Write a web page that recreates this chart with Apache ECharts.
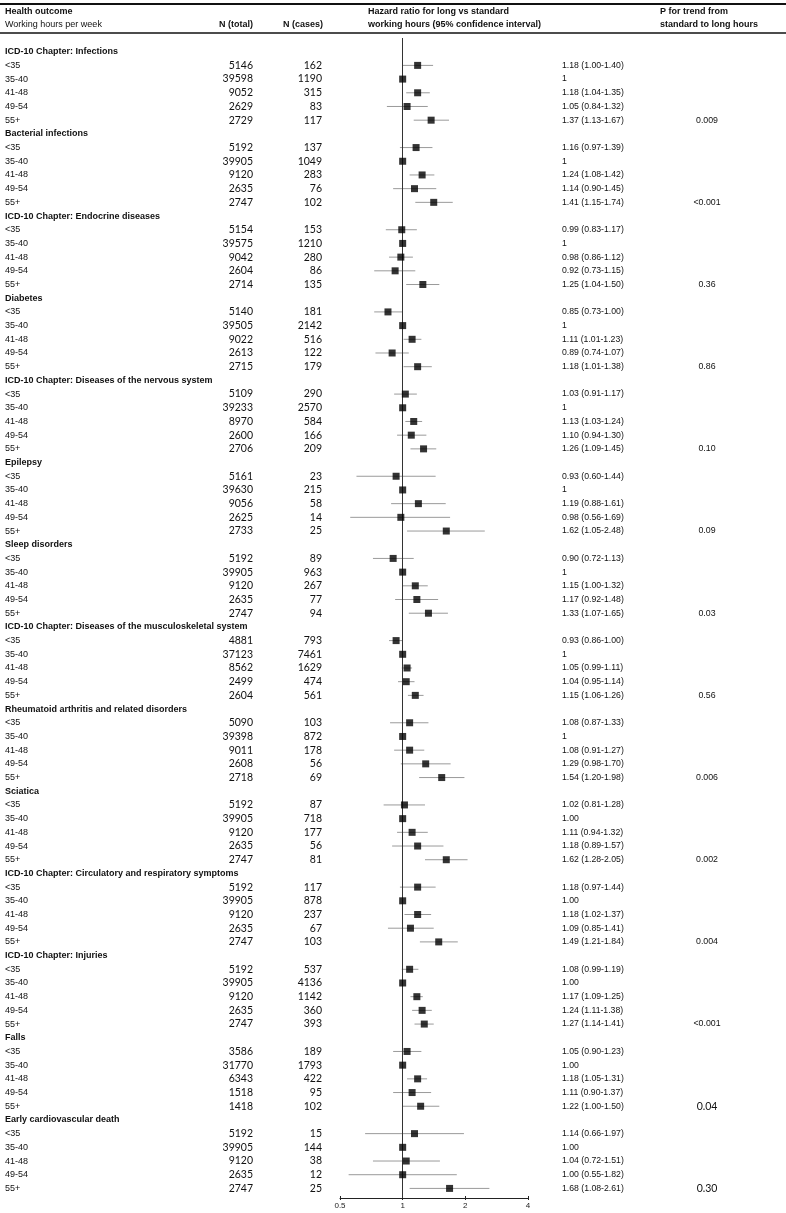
<!DOCTYPE html>
<html>
<head>
<meta charset="utf-8">
<script src="https://cdn.jsdelivr.net/npm/echarts@6/dist/echarts.min.js"></script>
<style>
  html, body { margin: 0; padding: 0; background: #fff; }
  #forest { width: 786px; height: 1213px; }
</style>
</head>
<body>
<div id="forest"></div>
<script>
// outcome groups, each with five working-hour bands
const groupTitles = [
  "ICD-10 Chapter: Infections",
  "Bacterial infections",
  "ICD-10 Chapter: Endocrine diseases",
  "Diabetes",
  "ICD-10 Chapter: Diseases of the nervous system",
  "Epilepsy",
  "Sleep disorders",
  "ICD-10 Chapter: Diseases of the musculoskeletal system",
  "Rheumatoid arthritis and related disorders",
  "Sciatica",
  "ICD-10 Chapter: Circulatory and respiratory symptoms",
  "ICD-10 Chapter: Injuries",
  "Falls",
  "Early cardiovascular death"
];
const hourBands = ["<35", "35-40", "41-48", "49-54", "55+"];

const nTotal = [
  [5146, 39598, 9052, 2629, 2729],
  [5192, 39905, 9120, 2635, 2747],
  [5154, 39575, 9042, 2604, 2714],
  [5140, 39505, 9022, 2613, 2715],
  [5109, 39233, 8970, 2600, 2706],
  [5161, 39630, 9056, 2625, 2733],
  [5192, 39905, 9120, 2635, 2747],
  [4881, 37123, 8562, 2499, 2604],
  [5090, 39398, 9011, 2608, 2718],
  [5192, 39905, 9120, 2635, 2747],
  [5192, 39905, 9120, 2635, 2747],
  [5192, 39905, 9120, 2635, 2747],
  [3586, 31770, 6343, 1518, 1418],
  [5192, 39905, 9120, 2635, 2747]
];
const nCases = [
  [162, 1190, 315, 83, 117],
  [137, 1049, 283, 76, 102],
  [153, 1210, 280, 86, 135],
  [181, 2142, 516, 122, 179],
  [290, 2570, 584, 166, 209],
  [23, 215, 58, 14, 25],
  [89, 963, 267, 77, 94],
  [793, 7461, 1629, 474, 561],
  [103, 872, 178, 56, 69],
  [87, 718, 177, 56, 81],
  [117, 878, 237, 67, 103],
  [537, 4136, 1142, 360, 393],
  [189, 1793, 422, 95, 102],
  [15, 144, 38, 12, 25]
];
const hazard = [
  [1.18, 1, 1.18, 1.05, 1.37],
  [1.16, 1, 1.24, 1.14, 1.41],
  [0.99, 1, 0.98, 0.92, 1.25],
  [0.85, 1, 1.11, 0.89, 1.18],
  [1.03, 1, 1.13, 1.10, 1.26],
  [0.93, 1, 1.19, 0.98, 1.62],
  [0.90, 1, 1.15, 1.17, 1.33],
  [0.93, 1, 1.05, 1.04, 1.15],
  [1.08, 1, 1.08, 1.29, 1.54],
  [1.02, 1, 1.11, 1.18, 1.62],
  [1.18, 1, 1.18, 1.09, 1.49],
  [1.08, 1, 1.17, 1.24, 1.27],
  [1.05, 1, 1.18, 1.11, 1.22],
  [1.14, 1, 1.04, 1.00, 1.68]
];
const ciLow = [
  [1.00, null, 1.04, 0.84, 1.13],
  [0.97, null, 1.08, 0.90, 1.15],
  [0.83, null, 0.86, 0.73, 1.04],
  [0.73, null, 1.01, 0.74, 1.01],
  [0.91, null, 1.03, 0.94, 1.09],
  [0.60, null, 0.88, 0.56, 1.05],
  [0.72, null, 1.00, 0.92, 1.07],
  [0.86, null, 0.99, 0.95, 1.06],
  [0.87, null, 0.91, 0.98, 1.20],
  [0.81, null, 0.94, 0.89, 1.28],
  [0.97, null, 1.02, 0.85, 1.21],
  [0.99, null, 1.09, 1.11, 1.14],
  [0.90, null, 1.05, 0.90, 1.00],
  [0.66, null, 0.72, 0.55, 1.08]
];
const ciHigh = [
  [1.40, null, 1.35, 1.32, 1.67],
  [1.39, null, 1.42, 1.45, 1.74],
  [1.17, null, 1.12, 1.15, 1.50],
  [1.00, null, 1.23, 1.07, 1.38],
  [1.17, null, 1.24, 1.30, 1.45],
  [1.44, null, 1.61, 1.69, 2.48],
  [1.13, null, 1.32, 1.48, 1.65],
  [1.00, null, 1.11, 1.14, 1.26],
  [1.33, null, 1.27, 1.70, 1.98],
  [1.28, null, 1.32, 1.57, 2.05],
  [1.44, null, 1.37, 1.41, 1.84],
  [1.19, null, 1.25, 1.38, 1.41],
  [1.23, null, 1.31, 1.37, 1.50],
  [1.97, null, 1.51, 1.82, 2.61]
];
// the reference band is printed as "1" in the first groups and "1.00" later
const refLabel = ["1", "1", "1", "1", "1", "1", "1", "1", "1", "1.00", "1.00", "1.00", "1.00", "1.00"];
const pTrend = ["0.009", "<0.001", "0.36", "0.86", "0.10", "0.09", "0.03", "0.56", "0.006", "0.002", "0.004", "<0.001", "0.04", "0.30"];
const xTicks = [0.5, 1, 2, 4];

// layout
const W = 786;
const gridTop = 38, gridBottom = 15;
const rowMin = -1, rowMax = 83.7;
const col = { label: 5, nTotal: 253, nCases: 322, hrText: 562, p: 707 };
const FONT = "'Liberation Sans', Arial, sans-serif";
const NUMFONT = "Lato, 'Liberation Sans', sans-serif";
const largeP = [12, 13];

// build rows
const labelItems = [], totalItems = [], caseItems = [], hrItems = [], pItems = [];
const points = [], cis = [];
groupTitles.forEach((title, g) => {
  const r0 = g * 6;
  labelItems.push({ x: col.label, row: r0, text: title, bold: true });
  hourBands.forEach((band, i) => {
    const r = r0 + 1 + i;
    labelItems.push({ x: col.label, row: r, text: band });
    totalItems.push({ x: col.nTotal, row: r, text: String(nTotal[g][i]) });
    caseItems.push({ x: col.nCases, row: r, text: String(nCases[g][i]) });
    const lo = ciLow[g][i], hi = ciHigh[g][i], h = hazard[g][i];
    const txt = lo == null ? refLabel[g]
      : h.toFixed(2) + " (" + lo.toFixed(2) + "-" + hi.toFixed(2) + ")";
    hrItems.push({ x: col.hrText, row: r, text: txt });
    points.push([h, r]);
    if (lo != null) cis.push([lo, hi, r]);
    if (i === 4) pItems.push({ x: col.p, row: r, text: pTrend[g], big: largeP.indexOf(g) >= 0 });
  });
});

function textSeries(items, fontFn, align) {
  return {
    type: "custom",
    xAxisIndex: 0,
    yAxisIndex: 0,
    silent: true,
    animation: false,
    data: items.map(d => [d.x, d.row]),
    encode: { x: 0, y: 1 },
    renderItem: function (params, api) {
      const d = items[params.dataIndex];
      const p = api.coord([api.value(0), api.value(1)]);
      return {
        type: "text",
        x: p[0],
        y: p[1],
        style: {
          text: d.text,
          font: fontFn(d),
          fill: "#111",
          align: align,
          textAlign: align,
          verticalAlign: "middle",
          textVerticalAlign: "middle"
        }
      };
    }
  };
}

const chart = echarts.init(document.getElementById("forest"), null, { renderer: "canvas" });

function headerText(x, y, text, bold, align) {
  return {
    type: "text",
    x: x,
    y: y,
    silent: true,
    style: {
      text: text,
      font: (bold ? "bold " : "") + "9px " + FONT,
      fill: "#111",
      align: align || "left",
      textAlign: align || "left",
      verticalAlign: "middle",
      textVerticalAlign: "middle"
    }
  };
}

chart.setOption({
  backgroundColor: "#fff",
  animation: false,
  graphic: [
    { type: "line", silent: true, shape: { x1: 0, y1: 4, x2: W, y2: 4 }, style: { stroke: "#111", lineWidth: 2 } },
    { type: "line", silent: true, shape: { x1: 0, y1: 33, x2: W, y2: 33 }, style: { stroke: "#111", lineWidth: 1.5 } },
    headerText(col.label, 12, "Health outcome", true),
    headerText(col.label, 25, "Working hours per week", false),
    headerText(col.nTotal, 25, "N (total)", true, "right"),
    headerText(col.nCases + 1, 25, "N (cases)", true, "right"),
    headerText(368, 12, "Hazard ratio for long vs standard", true),
    headerText(368, 25, "working hours (95% confidence interval)", true),
    headerText(660, 12, "P for trend from", true),
    headerText(660, 25, "standard to long hours", true)
  ],
  grid: [
    { left: 0, right: 0, top: gridTop, bottom: gridBottom },
    { left: 340, width: 188, top: gridTop, bottom: gridBottom }
  ],
  xAxis: [
    { gridIndex: 0, type: "value", min: 0, max: W, show: false },
    {
      gridIndex: 1, type: "log", logBase: 2, min: 0.5, max: 4,
      position: "bottom",
      axisLine: { show: true, onZero: false, lineStyle: { color: "#222", width: 1 } },
      axisTick: { show: true, length: 2, lineStyle: { color: "#222" } },
      axisLabel: {
        show: true, margin: 4, fontSize: 8, fontFamily: FONT, color: "#222",
        formatter: v => {
          const t = xTicks.find(k => Math.abs(k - v) < 1e-6);
          return t == null ? "" : String(t);
        }
      },
      splitLine: { show: false }
    },
    {
      gridIndex: 1, type: "log", logBase: 2, min: 0.5, max: 4,
      position: "bottom",
      axisLine: { show: false, onZero: false },
      axisTick: { show: true, inside: true, length: 2, lineStyle: { color: "#222" } },
      axisLabel: { show: false },
      splitLine: { show: false }
    }
  ],
  yAxis: [
    { gridIndex: 0, type: "value", min: rowMin, max: rowMax, inverse: true, show: false },
    { gridIndex: 1, type: "value", min: rowMin, max: rowMax, inverse: true, show: false }
  ],
  series: [
    textSeries(labelItems, d => (d.bold ? "bold " : "") + "9px " + FONT, "left"),
    textSeries(totalItems, () => "10.5px " + NUMFONT, "right"),
    textSeries(caseItems, () => "10.5px " + NUMFONT, "right"),
    textSeries(hrItems, () => "8.7px " + FONT, "left"),
    textSeries(pItems, d => d.big ? "10.5px " + NUMFONT : "8.8px " + FONT, "center"),
    {
      type: "custom",
      xAxisIndex: 1,
      yAxisIndex: 1,
      silent: true,
      data: cis,
      encode: { x: [0, 1], y: 2 },
      renderItem: function (params, api) {
        const a = api.coord([api.value(0), api.value(2)]);
        const b = api.coord([api.value(1), api.value(2)]);
        return {
          type: "line",
          shape: { x1: a[0], y1: a[1], x2: b[0], y2: b[1] },
          style: { stroke: "#9a9a9a", lineWidth: 1 }
        };
      }
    },
    {
      type: "scatter",
      xAxisIndex: 1,
      yAxisIndex: 1,
      silent: true,
      symbol: "rect",
      symbolSize: 7,
      itemStyle: { color: "#000" },
      data: points,
      z: 5,
      markLine: {
        silent: true,
        symbol: ["none", "none"],
        label: { show: false },
        lineStyle: { color: "#333", type: "solid", width: 1 },
        data: [{ xAxis: 1 }]
      }
    }
  ]
});
</script>
</body>
</html>
